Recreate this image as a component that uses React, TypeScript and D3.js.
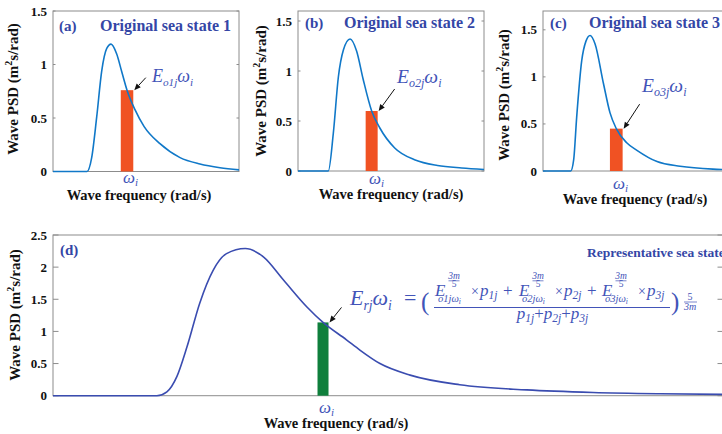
import React from "react";
import * as d3 from "d3";

// ---------- data ----------
const panelLabels = ["(a)", "(b)", "(c)", "(d)"];
const panelTitles = [
  "Original sea state 1",
  "Original sea state 2",
  "Original sea state 3",
  "Representative sea state",
];
const annotationSubs = ["o1j", "o2j", "o3j", "rj"];
const yTicksTop = [0, 0.5, 1, 1.5];
const yTicksBottom = [0, 0.5, 1, 1.5, 2, 2.5];
const yMaxes = [1.5, 1.6, 1.7, 2.5];

// relative frequency (0..1 across each panel) and PSD (m^2 s/rad)
const freqA = [0, 0.183, 0.208, 0.235, 0.262, 0.289, 0.312, 0.342, 0.37, 0.398, 0.44, 0.49, 0.575, 0.683, 0.79, 0.898, 1];
const psdA = [0, 0, 0.13, 0.51, 0.94, 1.15, 1.19, 1.1, 0.93, 0.76, 0.58, 0.42, 0.26, 0.13, 0.07, 0.035, 0.015];

const freqB = [0, 0.163, 0.19, 0.217, 0.244, 0.28, 0.315, 0.35, 0.396, 0.44, 0.52, 0.63, 0.75, 0.88, 1];
const psdB = [0, 0, 0.38, 0.94, 1.21, 1.32, 1.2, 0.92, 0.6, 0.43, 0.23, 0.11, 0.055, 0.03, 0.015];

const freqC = [0, 0.149, 0.165, 0.181, 0.208, 0.231, 0.253, 0.28, 0.325, 0.36, 0.394, 0.45, 0.505, 0.613, 0.737, 0.914, 1];
const psdC = [0, 0, 0.12, 0.57, 1.17, 1.38, 1.44, 1.35, 0.93, 0.62, 0.45, 0.3, 0.22, 0.1, 0.05, 0.02, 0.015];

const freqD = [0, 0.155, 0.17, 0.185, 0.2, 0.219, 0.239, 0.259, 0.287, 0.314, 0.344, 0.379, 0.403, 0.438, 0.458, 0.488, 0.533, 0.607, 0.707, 0.806, 0.906, 1];
const psdD = [0, 0, 0.06, 0.3, 0.76, 1.44, 1.95, 2.21, 2.29, 2.16, 1.8, 1.38, 1.14, 0.87, 0.71, 0.5, 0.32, 0.17, 0.09, 0.05, 0.03, 0.02];

const omegaI = [0.398, 0.396, 0.394, 0.403];
const barPSD = [0.76, 0.6, 0.45, 1.14];

// ---------- styles ----------
const F = '"Liberation Serif", "Times New Roman", serif';
const TITLE_BLUE = "#3446a6";
const MATH_BLUE = "#4254b8";
const LINE_TOP = "#1078c8";
const LINE_D = "#3a4cb0";
const BAR_ORANGE = "#f05223";
const BAR_GREEN = "#0f7f3c";
const FRAME = "#8c8c8c";

type Panel = {
  x0: number; x1: number; y0: number; y1: number;
  freq: number[]; psd: number[]; yMax: number; ticks: number[];
  line: string; bar: string; barW: number; tickLen: number;
  ylab: [number, number]; xlab: [number, number]; omegaLab: [number, number];
  label: [number, number]; title: [number, number]; titleSize: number;
  ann: [number, number]; annSize: number; arrowFrom: [number, number];
  idx: number;
};

const panels: Panel[] = [
  { idx: 0, x0: 53, x1: 239, y0: 11, y1: 171.5, freq: freqA, psd: psdA, yMax: yMaxes[0], ticks: yTicksTop,
    line: LINE_TOP, bar: BAR_ORANGE, barW: 12.5, tickLen: 2.5,
    ylab: [18, 89], xlab: [139, 200], omegaLab: [129, 183], label: [59, 31], title: [100, 31], titleSize: 16,
    ann: [152, 82], annSize: 18, arrowFrom: [12.5, -12.5] },
  { idx: 1, x0: 298, x1: 484, y0: 11, y1: 171, freq: freqB, psd: psdB, yMax: yMaxes[1], ticks: yTicksTop,
    line: LINE_TOP, bar: BAR_ORANGE, barW: 12, tickLen: 2.5,
    ylab: [266, 91], xlab: [391, 199], omegaLab: [375, 184], label: [305, 28], title: [344, 28], titleSize: 16,
    ann: [397, 83], annSize: 19.5, arrowFrom: [17, -22] },
  { idx: 2, x0: 543, x1: 729, y0: 11, y1: 171, freq: freqC, psd: psdC, yMax: yMaxes[2], ticks: yTicksTop,
    line: LINE_TOP, bar: BAR_ORANGE, barW: 12.7, tickLen: 2.5,
    ylab: [509, 95], xlab: [635, 204], omegaLab: [619, 189], label: [550, 28], title: [589, 28], titleSize: 16,
    ann: [642, 91.5], annSize: 19.5, arrowFrom: [17, -24.5] },
  { idx: 3, x0: 53, x1: 723, y0: 235, y1: 395.7, freq: freqD, psd: psdD, yMax: yMaxes[3], ticks: yTicksBottom,
    line: LINE_D, bar: BAR_GREEN, barW: 11, tickLen: 5.5,
    ylab: [20, 315], xlab: [336, 428], omegaLab: [325, 413], label: [60, 255], title: [587, 257], titleSize: 13.5,
    ann: [350, 305], annSize: 22, arrowFrom: [13, -15] },
];

function Arrow({ x1, y1, x2, y2 }: { x1: number; y1: number; x2: number; y2: number }) {
  const ang = Math.atan2(y2 - y1, x2 - x1);
  const hl = 6.5, hw = 2.8;
  const bx = x2 - hl * Math.cos(ang), by = y2 - hl * Math.sin(ang);
  const px = -Math.sin(ang) * hw, py = Math.cos(ang) * hw;
  return (
    <g>
      <line x1={x1} y1={y1} x2={bx} y2={by} stroke="#111" strokeWidth={1} />
      <polygon points={`${x2},${y2} ${bx + px},${by + py} ${bx - px},${by - py}`} fill="#111" />
    </g>
  );
}

function EOmega({ x, y, sub, size }: { x: number; y: number; sub: string; size: number }) {
  const s = size * 0.62;
  const d = size * 0.22;
  return (
    <text x={x} y={y} style={{ fontFamily: F }} fontStyle="italic" fontSize={size} fill={MATH_BLUE}>
      E<tspan dy={d} fontSize={s}>{sub}</tspan>
      <tspan dy={-d} fontSize={size}>ω</tspan>
      <tspan dy={d} fontSize={s}>i</tspan>
    </text>
  );
}

function SmallFrac({ cx, yNum, yDen, yLine, num, den, w, size }: { cx: number; yNum: number; yDen: number; yLine: number; num: string; den: string; w: number; size: number }) {
  return (
    <g fill={MATH_BLUE} style={{ fontFamily: F }} fontSize={size}>
      <text x={cx} y={yNum} textAnchor="middle" fontStyle="italic">{num}</text>
      <line x1={cx - w / 2} x2={cx + w / 2} y1={yLine} y2={yLine} stroke={MATH_BLUE} strokeWidth={0.7} />
      <text x={cx} y={yDen} textAnchor="middle">{den}</text>
    </g>
  );
}

function Formula() {
  const eX = [435, 519, 602];
  const subs = ["o1j", "o2j", "o3j"];
  const ps = ["1j", "2j", "3j"];
  const base = 296;
  return (
    <g style={{ fontFamily: F }} fill={MATH_BLUE}>
      <text x={404} y={305} fontSize={22}>=</text>
      <text x={421} y={310} fontSize={25}>(</text>
      {eX.map((e, k) => (
        <g key={k}>
          <text x={e} y={base} fontSize={17} fontStyle="italic">E</text>
          <SmallFrac cx={e + 19} yNum={279} yDen={287} yLine={280.8} num="3m" den="5" w={11} size={9.5} />
          <text x={e + 3} y={base + 6} fontSize={10.5} fontStyle="italic">
            {subs[k]}ω<tspan dy={1.5} fontSize={7.5}>i</tspan>
          </text>
          <text x={e + 36} y={base} fontSize={14}>×</text>
          <text x={e + 45} y={base} fontSize={17} fontStyle="italic">
            p<tspan dy={3} fontSize={11.5}>{ps[k]}</tspan>
          </text>
          {k < 2 && <text x={e + 68} y={base} fontSize={17}>+</text>}
        </g>
      ))}
      <line x1={434} x2={670} y1={307.5} y2={307.5} stroke={MATH_BLUE} strokeWidth={1} />
      <text x={552.5} y={319} fontSize={17} textAnchor="middle" fontStyle="italic">
        p<tspan dy={3} fontSize={11.5}>1j</tspan>
        <tspan dy={-3} fontSize={17} fontStyle="normal">+</tspan>
        <tspan fontSize={17}>p</tspan><tspan dy={3} fontSize={11.5}>2j</tspan>
        <tspan dy={-3} fontSize={17} fontStyle="normal">+</tspan>
        <tspan fontSize={17}>p</tspan><tspan dy={3} fontSize={11.5}>3j</tspan>
      </text>
      <text x={671} y={310} fontSize={25}>)</text>
      <text x={690} y={299.5} fontSize={10} textAnchor="middle">5</text>
      <line x1={684} x2={697} y1={302} y2={302} stroke={MATH_BLUE} strokeWidth={0.7} />
      <text x={690} y={310} fontSize={10} textAnchor="middle" fontStyle="italic">3m</text>
    </g>
  );
}

function PanelView({ p }: { p: Panel }) {
  const x = d3.scaleLinear().domain([0, 1]).range([p.x0, p.x1]);
  const y = d3.scaleLinear().domain([0, p.yMax]).range([p.y1, p.y0]);
  const pts = p.freq.map((f, i) => [f, p.psd[i]] as [number, number]);
  const lineGen = d3.line<[number, number]>().x(d => x(d[0])).y(d => y(d[1])).curve(d3.curveMonotoneX);
  const bx = x(omegaI[p.idx]);
  const by = y(barPSD[p.idx]);
  const fmt = (v: number) => String(v);
  const ff = { fontFamily: F };
  return (
    <g>
      <rect x={p.x0} y={p.y0} width={p.x1 - p.x0} height={p.y1 - p.y0} fill="white" stroke={FRAME} strokeWidth={1} />
      {p.ticks.map(t => (
        <g key={t}>
          <line x1={p.x0} x2={p.x0 + p.tickLen} y1={y(t)} y2={y(t)} stroke={FRAME} />
          <line x1={p.x1} x2={p.x1 - p.tickLen} y1={y(t)} y2={y(t)} stroke={FRAME} />
          <text x={p.x0 - 6} y={y(t)} dy="0.35em" textAnchor="end" style={ff} fontWeight="bold" fontSize={13} fill="#111">{fmt(t)}</text>
        </g>
      ))}
      <rect x={bx - p.barW / 2} y={by} width={p.barW} height={y(0) - by} fill={p.bar} />
      <path d={lineGen(pts) || ""} fill="none" stroke={p.line} strokeWidth={1.6} />
      <text x={p.label[0]} y={p.label[1]} style={ff} fontWeight="bold" fontSize={15} fill={TITLE_BLUE}>{panelLabels[p.idx]}</text>
      <text x={p.title[0]} y={p.title[1]} style={ff} fontWeight="bold" fontSize={p.titleSize} fill={TITLE_BLUE}>{panelTitles[p.idx]}</text>
      <text transform={`translate(${p.ylab[0]},${p.ylab[1]}) rotate(-90)`} textAnchor="middle" style={ff} fontWeight="bold" fontSize={15} fill="#111">
        Wave PSD (m<tspan dy={-6} fontSize={10}>2</tspan><tspan dy={6} fontSize={15}>s/rad)</tspan>
      </text>
      <text x={p.xlab[0]} y={p.xlab[1]} textAnchor="middle" style={ff} fontWeight="bold" fontSize={14.5} fill="#111">Wave frequency (rad/s)</text>
      <text x={p.omegaLab[0] - 6} y={p.omegaLab[1]} style={ff} fontStyle="italic" fontSize={17} fill={MATH_BLUE}>
        ω<tspan dy={2.5} fontSize={11}>i</tspan>
      </text>
      <EOmega x={p.ann[0]} y={p.ann[1]} sub={annotationSubs[p.idx]} size={p.annSize} />
      <Arrow x1={bx + p.barW / 2 + p.arrowFrom[0]} y1={by + p.arrowFrom[1]} x2={bx + p.barW / 2 + 1} y2={by} />
    </g>
  );
}

export default function App() {
  return (
    <svg width={722} height={434} style={{ position: "absolute", left: 0, top: 0, background: "white" }}>
      <rect x={0} y={0} width={722} height={434} fill="white" />
      {panels.map(p => <PanelView key={p.idx} p={p} />)}
      <Formula />
    </svg>
  );
}
